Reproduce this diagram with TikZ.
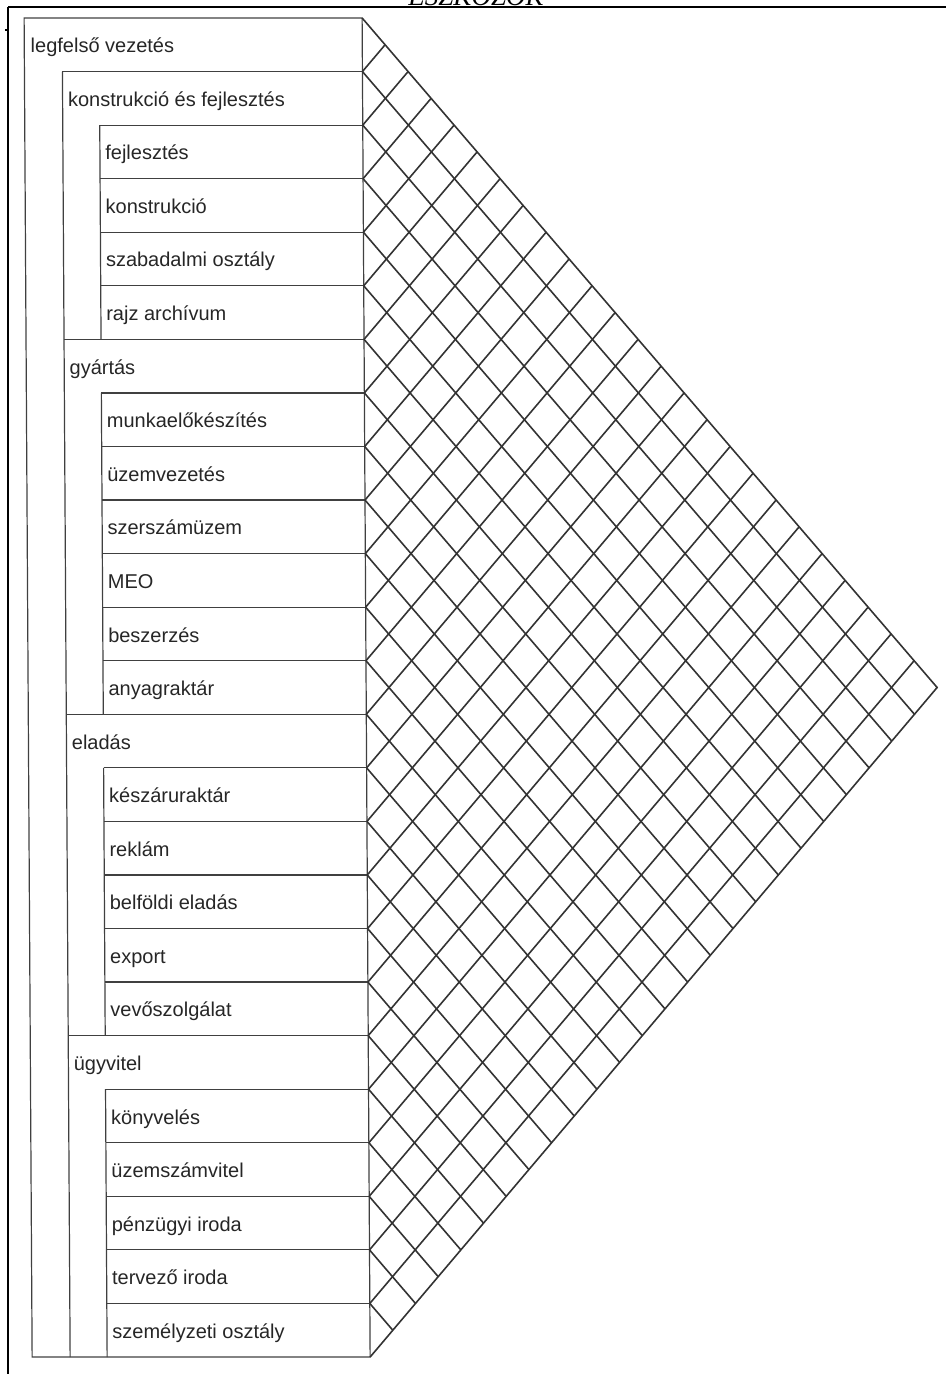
\documentclass[tikz,border=0pt]{standalone}
\usepackage{fontspec}
\setmainfont{Liberation Sans}
\newfontfamily\titlefont{Liberation Serif}
\begin{document}
\begin{tikzpicture}[x=0.5pt,y=-0.5pt,
  boxline/.style={black!75, line width=0.6pt},
  gridline/.style={black!80, line width=0.8pt},
  frameline/.style={black, line width=1.2pt},
  unit/.style={anchor=base west, inner sep=0pt, text=black!85, font=\fontsize{10pt}{12pt}\selectfont}]
\useasboundingbox (0,0) rectangle (946,1374);

\node[anchor=base, inner sep=0pt, font=\titlefont\itshape\fontsize{13.5pt}{16pt}\selectfont] (cim) at (476,6) {ESZKÖZÖK};
\draw[frameline] (8,7) -- (946,7);
\draw[frameline] (8,7) -- (8,1374);
\draw[black, line width=0.6pt] (5,30) -- (8,30);

\begin{scope}[xslant=-0.006]
% boxes
\draw[boxline] (24,18) rectangle (362,1357);
\draw[boxline] (62,71.56) -- (62,1357);
\foreach \k in {1,6,13,19}
  \draw[boxline] (62,{18+53.56*\k}) -- (362,{18+53.56*\k});
\foreach \k in {2,3,4,5,7,8,9,10,11,12,14,15,16,17,18,20,21,22,23,24}
  \draw[boxline] (99,{18+53.56*\k}) -- (362,{18+53.56*\k});
\foreach \a/\b in {2/6,7/13,14/19,20/25}
  \draw[boxline] (99,{18+53.56*\a}) -- (99,{18+53.56*\b});

% grid
\coordinate (csucs) at (362,18);
\coordinate (jobb) at (933,687.5);
\coordinate (alja) at (362,1357);
\draw[gridline] (csucs) -- (jobb) -- (alja);
\foreach \i in {1,...,24}{
  \draw[gridline] (362,{18+53.56*\i}) -- ({362+22.84*(25-\i)},{18+26.78*(25+\i)});
  \draw[gridline] (362,{18+53.56*\i}) -- ({362+22.84*\i},{18+26.78*\i});
}

% labels
\node[unit] (legf) at (30,52.8) {legfelső vezetés};
\node[unit] (konfej) at (67,106.4) {konstrukció és fejlesztés};
\node[unit] (fejl) at (104,159.9) {fejlesztés};
\node[unit] (konstr) at (104,213.5) {konstrukció};
\node[unit] (szab) at (104,267.0) {szabadalmi osztály};
\node[unit] (rajz) at (104,320.6) {rajz archívum};
\node[unit] (gyart) at (67,374.2) {gyártás};
\node[unit] (munka) at (104,427.7) {munkaelőkészítés};
\node[unit] (uzemv) at (104,481.3) {üzemvezetés};
\node[unit] (szersz) at (104,534.8) {szerszámüzem};
\node[unit] (meo) at (104,588.4) {MEO};
\node[unit] (beszer) at (104,642.0) {beszerzés};
\node[unit] (anyag) at (104,695.5) {anyagraktár};
\node[unit] (elad) at (67,749.1) {eladás};
\node[unit] (keszaru) at (104,802.6) {készáruraktár};
\node[unit] (reklam) at (104,856.2) {reklám};
\node[unit] (belf) at (104,909.8) {belföldi eladás};
\node[unit] (export) at (104,963.3) {export};
\node[unit] (vevo) at (104,1016.9) {vevőszolgálat};
\node[unit] (ugyv) at (67,1070.4) {ügyvitel};
\node[unit] (konyv) at (104,1124.0) {könyvelés};
\node[unit] (uzemsz) at (104,1177.6) {üzemszámvitel};
\node[unit] (penz) at (104,1231.1) {pénzügyi iroda};
\node[unit] (terv) at (104,1284.7) {tervező iroda};
\node[unit] (szem) at (104,1338.2) {személyzeti osztály};
\end{scope}
\end{tikzpicture}
\end{document}
